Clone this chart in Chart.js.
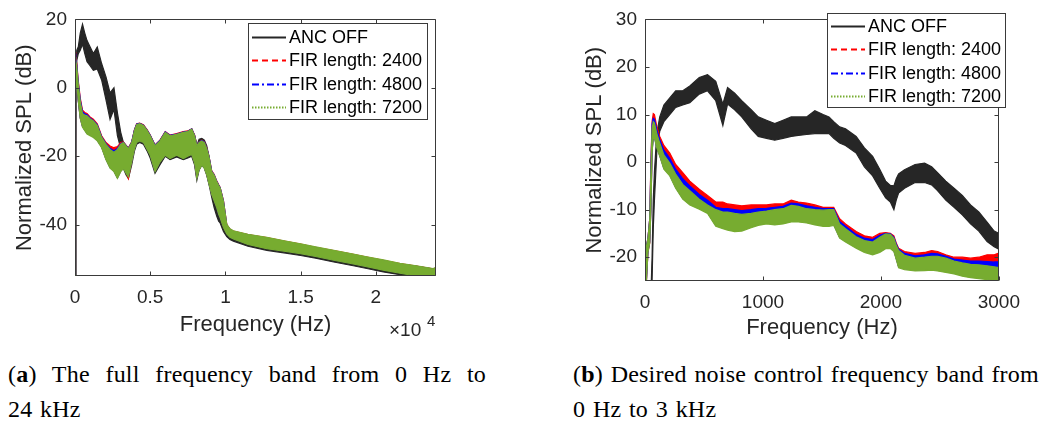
<!DOCTYPE html>
<html>
<head>
<meta charset="utf-8">
<script src="https://cdn.jsdelivr.net/npm/chart.js@4.4.0/dist/chart.umd.min.js"></script>
<style>
  body { margin: 0; background: #fff; width: 1042px; height: 421px; overflow: hidden; position: relative; }
  .plot { position: absolute; top: 0; height: 345px; }
  #fullBox { left: 0; width: 460px; }
  #lowBox { left: 560px; width: 470px; }
  .cap { position: absolute; font-family: 'Liberation Serif', 'Times New Roman', serif; font-size: 24px;
         line-height: 24px; color: #000; white-space: nowrap; letter-spacing: 0.2px; word-spacing: 1.5px; }
</style>
</head>
<body>
<div class="plot" id="fullBox"><canvas id="fullChart"></canvas></div>
<div class="plot" id="lowBox"><canvas id="lowChart"></canvas></div>

<div class="cap" style="left:8px; top:362px; width:478px; text-align:justify; text-align-last:justify;">(<b>a</b>) The full frequency band from 0 Hz to</div>
<div class="cap" style="left:8px; top:397px;">24 kHz</div>
<div class="cap" style="left:573px; top:362px;">(<b>b</b>) Desired noise control frequency band from</div>
<div class="cap" style="left:573px; top:397px;">0 Hz to 3 kHz</div>

<script>
// series shared by both panels
const seriesLabels = ['ANC OFF', 'FIR length: 2400', 'FIR length: 4800', 'FIR length: 7200'];
const seriesColors = ['#262626', '#ff0000', '#0000ff', '#77ac30'];
const seriesDash = [[], [6, 4], [7, 3, 2, 3], [1.5, 1.5]];

// (a) full band, 0 - 24 kHz. each series is drawn as a band: upper / lower envelope
const fullFreq = [
  0, 30, 60, 120, 220, 350, 500, 650, 800, 1000,
  1220, 1480, 1770, 2060, 2330, 2590, 2820, 3040, 3220, 3400,
  3550, 3770, 3950, 4100, 4300, 4550, 4800, 5000, 5320, 5650,
  6000, 6320, 6760, 7200, 7500, 7760, 7950, 8100, 8250, 8430,
  8600, 8760, 8900, 9090, 9250, 9420, 9550, 9650, 9870, 10090,
  10300, 10530, 11500, 12750, 14000, 15000, 16000, 17200, 18500, 19400,
  20500, 21600, 22700, 23800, 24000
];
const fullOffHi = [
  -60, -60, 5, 11, 12, 16, 18.6, 16, 13.8, 12,
  10, 11.9, 7.1, 3.2, -1.5, 0, -7.3, -13, -16, -17,
  -17.8, -16, -12.5, -10.7, -10.5, -11, -12.5, -14, -16.9, -15.5,
  -13, -14, -13.6, -13, -12.8, -12.1, -14, -16.9, -15, -14.8,
  -15.3, -17, -20, -25, -27, -29, -30, -31, -35, -40.5,
  -41.6, -42.2, -43.2, -44, -45, -45.8, -46.8, -47.8, -48.9, -49.6,
  -50.5, -51.5, -52.2, -53, -53
];
const fullOffLo = [
  -60, -60, -30, 8, 10, 11, 12.8, 10, 7.6, 6.5,
  5.1, 5.5, 2.3, -3.5, -9.2, -6.3, -14, -17.8, -23.6, -25.5,
  -26.5, -22.5, -18.5, -16.5, -16, -16.5, -18.5, -20.5, -25, -22.5,
  -20, -21, -20.2, -21, -20.5, -20, -22.5, -27, -24, -22.6,
  -23.5, -25.5, -28, -32, -35, -37.5, -39, -39.5, -42, -43.5,
  -44.3, -44.8, -46.3, -47.5, -48.3, -49, -49.8, -50.9, -52, -52.8,
  -53.8, -54.6, -55.5, -56, -56
];
const full2400Hi = [
  -60, 10.5, 9, 7, 2, -3, -6.5, -7.2, -7.5, -8.5,
  -9.2, -10.5, -14, -16, -17, -17.5, -17.2, -16, -15.8, -16.8,
  -17.5, -15.8, -12.3, -10.5, -10.3, -10.8, -12.3, -13.8, -16.7, -15.3,
  -12.8, -13.8, -13.4, -12.8, -12.6, -12, -13.8, -16.7, -15.8, -15.3,
  -15.8, -17.6, -19.8, -24.3, -25.3, -27.2, -28.3, -29.1, -33, -40,
  -41.3, -41.9, -42.9, -43.8, -44.9, -45.7, -46.6, -47.6, -48.7, -49.5,
  -50.4, -51.4, -52.1, -52.9, -52.6
];
const full2400Lo = [
  -60, -55, 4.3, 1.3, -3.7, -8.7, -11.2, -12.2, -13.2, -13.7,
  -14.2, -15.2, -17.2, -20.7, -23.2, -24.2, -26.2, -24.2, -23.3, -24.7,
  -26.5, -21.4, -17.7, -15.7, -15.2, -15.7, -17.7, -19.4, -24.2, -21.4,
  -19.4, -20.4, -19.4, -20.4, -19.7, -19.2, -21.7, -26.2, -23.7, -22.3,
  -23.2, -25.2, -27.7, -30.9, -32.7, -34.7, -36.7, -37.7, -40.5, -42.4,
  -43.4, -43.9, -45.5, -46.7, -47.5, -48.2, -49, -50.1, -51.2, -52,
  -53, -53.9, -54.7, -55.2, -55.2
];
const full4800Hi = [
  -60, 10, 8.5, 6.5, 1.5, -3.5, -7, -7.6, -7.9, -8.8,
  -9.5, -10.8, -14.3, -16.3, -17.7, -18.4, -17.7, -16.3, -15.9, -16.9,
  -17.7, -15.9, -12.4, -10.6, -10.4, -10.9, -12.4, -13.9, -16.8, -15.4,
  -12.9, -13.9, -13.5, -12.9, -12.7, -12, -13.9, -16.8, -15.9, -15.4,
  -15.9, -17.7, -19.9, -24.4, -25.4, -27.3, -28.4, -29.2, -33.1, -40.1,
  -41.4, -42, -43, -43.9, -45, -45.8, -46.7, -47.7, -48.8, -49.6,
  -50.5, -51.5, -52.2, -53, -52.7
];
const full4800Lo = [
  -60, -55, 4.2, 1.2, -3.8, -8.8, -11.3, -12.3, -13.3, -13.8,
  -14.3, -15.3, -17.3, -20.8, -23.3, -24.3, -26.3, -24.3, -23.4, -24.8,
  -25.8, -21.5, -17.8, -15.8, -15.3, -15.8, -17.8, -19.5, -24.3, -21.5,
  -19.5, -20.5, -19.5, -20.5, -19.8, -19.3, -21.8, -26.3, -23.8, -22.4,
  -23.3, -25.3, -27.8, -31, -32.8, -34.8, -36.8, -37.8, -40.6, -42.5,
  -43.5, -44, -45.6, -46.8, -47.6, -48.3, -49.1, -50.2, -51.3, -52.1,
  -53.1, -54, -54.8, -55.3, -55.3
];
const full7200Hi = [
  -60, 9, 8, 6, 1, -4, -7.5, -8, -8.2, -9,
  -9.7, -11, -14.5, -16.5, -18, -18.8, -18, -16.5, -16, -17,
  -17.8, -16, -12.5, -10.7, -10.5, -11, -12.5, -14, -16.9, -15.5,
  -13, -14, -13.6, -13, -12.8, -12.1, -14, -16.9, -16, -15.5,
  -16, -17.8, -20, -24.5, -25.5, -27.4, -28.5, -29.3, -33.2, -39.9,
  -41.2, -41.8, -42.8, -43.7, -44.8, -45.6, -46.5, -47.5, -48.6, -49.4,
  -50.3, -51.3, -52, -52.8, -52.5
];
const full7200Lo = [
  -60, -55, 4, 1, -4, -9, -11.5, -12.5, -13.5, -14,
  -14.5, -15.5, -17.5, -21, -23.5, -24.5, -26.5, -24.5, -23.6, -25,
  -26, -21.7, -18, -16, -15.5, -16, -18, -19.7, -24.5, -21.7,
  -19.7, -20.7, -19.7, -20.7, -20, -19.5, -22, -26.5, -24, -22.6,
  -23.5, -25.5, -28, -31.2, -33, -35, -37, -38, -40.8, -42.7,
  -43.7, -44.2, -45.8, -47, -47.8, -48.5, -49.3, -50.4, -51.5, -52.3,
  -53.3, -54.2, -55, -55.5, -55.5
];
const fullXTicks = [0, 5000, 10000, 15000, 20000];
const fullXTickLabels = ['0', '0.5', '1', '1.5', '2'];
const fullYTicks = [-40, -20, 0, 20];

// (b) noise control band, 0 - 3 kHz
const lowFreq = [
  0, 10, 25, 40, 50, 60, 70, 80, 100, 125,
  160, 210, 260, 320, 380, 460, 530, 600, 660, 700,
  760, 820, 900, 960, 1030, 1100, 1170, 1240, 1300, 1370,
  1440, 1510, 1560, 1600, 1650, 1700, 1790, 1860, 1930, 1990,
  2040, 2080, 2110, 2130, 2150, 2200, 2290, 2370, 2430, 2480,
  2550, 2620, 2690, 2760, 2830, 2900, 2960, 3000
];
const lowOffHi = [
  -30, -30, -30, -30, -28, -20, -8, -2, 6, 9.5,
  12, 13.5, 15, 15, 16, 17.8, 18.4, 17, 12.2, 15.7,
  14.5, 12.9, 11, 9.5, 8.8, 8.1, 8.8, 9.5, 9.5, 9.5,
  10.8, 10, 9.5, 8.5, 7.4, 7, 5.4, 3, 1.2, -1.5,
  -4, -4.9, -5, -3.5, -2.5, -1.6, -0.5, -0.2, -1, -2.2,
  -4, -5.5, -7, -9, -10.5, -12.6, -14.5, -15
];
const lowOffLo = [
  -30, -30, -30, -30, -30, -25, -14, -8, 2, 6.5,
  8.5, 10, 11.5, 12, 12.5, 14.3, 15, 12.9, 7.7, 12.2,
  11, 9.5, 7, 5.4, 5, 4.6, 5, 5.4, 5.6, 5.8,
  6, 6, 6, 5, 4, 3.5, 1.9, -1, -2.9, -5.5,
  -7.5, -8.4, -10, -8, -6.5, -5.5, -4.3, -4.3, -4.8, -6,
  -8, -9.5, -11.1, -13, -14.5, -16.7, -17.8, -18.3
];
const low2400Hi = [
  -30, -18, -16, -12, 0, 8.5, 10.2, 10, 7.5, 5.4,
  3.5, 1.9, -0.5, -2.2, -4, -5.7, -7, -8.4, -8.4, -8.8,
  -9, -9.2, -9, -9, -9, -8.8, -8.8, -8, -8.4, -8.6,
  -9, -9.5, -9.5, -9.5, -11.9, -13, -14.6, -15.5, -15.8, -15,
  -14.8, -15, -15.5, -17, -18.1, -18.8, -19.2, -19, -18.6, -18.8,
  -19.5, -20, -20, -20.2, -20, -19.5, -19.5, -19.1
];
const low2400Lo = [
  -30, -26, -19, -17, -9.5, 2.5, 5.5, 5.5, 3.5, 1.5,
  -1.2, -2.6, -5.2, -7.5, -8.7, -9.6, -10.5, -13.2, -13.7, -14,
  -14.3, -14.2, -13.5, -13, -12.7, -12.9, -12.7, -12.3, -12.3, -12.5,
  -12.9, -13.2, -13.2, -13, -15.7, -16.5, -17.8, -18.7, -19.2, -18.7,
  -17.9, -17.9, -18.5, -20.2, -21.9, -22.3, -22.6, -22.5, -22.4, -22.6,
  -22.9, -23.2, -23.7, -24, -24.2, -24.4, -24.7, -24.7
];
const low4800Hi = [
  -30, -18, -16, -12, -1, 8, 9.2, 9, 6.8, 4.7,
  2.5, 0.8, -1.5, -3.5, -5, -6.8, -8, -9.5, -9.8, -9.8,
  -10, -10.2, -10, -9.8, -9.7, -9.5, -9.3, -8.6, -8.8, -9.2,
  -9.5, -9.8, -9.8, -9.8, -12.5, -13.5, -15.2, -16, -16.3, -15.4,
  -15, -15.1, -15.8, -17.2, -18.3, -19.2, -19.7, -19.5, -19.2, -19.3,
  -19.8, -20.4, -20.6, -20.8, -20.8, -20.9, -21, -21
];
const low4800Lo = [
  -30, -25.8, -18.8, -16.8, -9.8, 2.2, 5.2, 5.2, 3.2, 1.4,
  -1.3, -2.7, -5.3, -7.6, -8.8, -9.7, -10.6, -13.3, -13.8, -14.1,
  -14.4, -14.3, -13.6, -13.1, -12.8, -13, -12.8, -12.4, -12.4, -12.6,
  -13, -13.3, -13.3, -13.1, -15.8, -16.6, -17.9, -18.8, -19.3, -18.8,
  -18, -18, -18.6, -20.3, -22, -22.4, -22.7, -22.6, -22.5, -22.7,
  -23, -23.3, -23.8, -24.1, -24.3, -24.5, -24.8, -24.8
];
const low7200Hi = [
  -30, -18, -16, -12, -2, 7, 8.5, 8.2, 6, 4,
  1.5, -0.2, -2.5, -4.7, -6, -7.8, -9, -10, -10.5, -10.5,
  -10.8, -11, -10.8, -10.5, -10.3, -10, -9.8, -9.1, -9.3, -9.8,
  -10, -10.1, -10, -10, -13, -14, -15.7, -16.5, -16.8, -15.8,
  -15.1, -15.2, -16, -17.5, -18.6, -19.6, -20.2, -20, -19.8, -19.8,
  -20.2, -20.8, -21.2, -21.5, -21.6, -21.8, -22, -22.2
];
const low7200Lo = [
  -30, -26, -19, -17, -10, 2, 5, 5, 3, 1.2,
  -1.5, -2.9, -5.5, -7.8, -9, -9.9, -10.8, -13.5, -14, -14.3,
  -14.6, -14.5, -13.8, -13.3, -13, -13.2, -13, -12.6, -12.6, -12.8,
  -13.2, -13.5, -13.5, -13.3, -16, -16.8, -18.1, -19, -19.5, -19,
  -18.2, -18.2, -18.8, -20.5, -22.2, -22.6, -22.9, -22.8, -22.7, -22.9,
  -23.2, -23.5, -24, -24.3, -24.5, -24.7, -25, -25
];
const lowXTicks = [0, 1000, 2000, 3000];
const lowYTicks = [-20, -10, 0, 10, 20, 30];

const textColor = '#262626';
Chart.defaults.font.family = "'Liberation Sans', Arial, sans-serif";
Chart.defaults.color = textColor;

// box round the axes with MATLAB style inward ticks on all four sides
const axesFrame = {
  id: 'axesFrame',
  afterDatasetsDraw(chart) {
    const { ctx, chartArea: a, scales: { x, y } } = chart;
    const L = Math.round(a.left) + 0.5, R = Math.round(a.right) - 0.5;
    const T = Math.round(a.top) + 0.5, B = Math.round(a.bottom) - 0.5;
    ctx.save();
    ctx.strokeStyle = '#3a3a3a';
    ctx.lineWidth = 1;
    ctx.beginPath();
    ctx.rect(L, T, R - L, B - T);
    x.ticks.forEach(t => {
      const px = Math.round(x.getPixelForValue(t.value)) + 0.5;
      ctx.moveTo(px, B); ctx.lineTo(px, B - 4);
      ctx.moveTo(px, T); ctx.lineTo(px, T + 4);
    });
    y.ticks.forEach(t => {
      const py = Math.round(y.getPixelForValue(t.value)) + 0.5;
      ctx.moveTo(L, py); ctx.lineTo(L + 4, py);
      ctx.moveTo(R, py); ctx.lineTo(R - 4, py);
    });
    ctx.stroke();
    ctx.restore();
  }
};

// legend inside the axes, with the line styles of the original
const boxLegend = {
  id: 'boxLegend',
  afterDraw(chart, args, opts) {
    const { ctx } = chart;
    ctx.save();
    ctx.fillStyle = '#fff';
    ctx.fillRect(opts.x, opts.y, opts.w, opts.h);
    ctx.strokeStyle = '#3a3a3a';
    ctx.lineWidth = 1;
    ctx.strokeRect(opts.x + 0.5, opts.y + 0.5, opts.w, opts.h);
    ctx.font = "18px 'Liberation Sans', Arial, sans-serif";
    ctx.textBaseline = 'middle';
    seriesLabels.forEach((label, i) => {
      const cy = Math.round(opts.y + opts.firstRow + i * opts.rowGap) + 0.5;
      ctx.strokeStyle = seriesColors[i];
      ctx.lineWidth = 2;
      ctx.setLineDash(seriesDash[i]);
      ctx.beginPath();
      ctx.moveTo(opts.x + 4, cy);
      ctx.lineTo(opts.x + 38, cy);
      ctx.stroke();
      ctx.setLineDash([]);
      ctx.fillStyle = '#000';
      ctx.fillText(label, opts.x + 41, cy + 1);
    });
    ctx.restore();
  }
};

// "x10^4" multiplier under the right end of the x axis
const xExponent = {
  id: 'xExponent',
  afterDraw(chart, args, opts) {
    if (!opts.show) return;
    const { ctx } = chart;
    ctx.save();
    ctx.fillStyle = textColor;
    ctx.textBaseline = 'alphabetic';
    ctx.font = "19px 'Liberation Sans', Arial, sans-serif";
    ctx.fillText('\u00d710', 389, 336);
    ctx.font = "15px 'Liberation Sans', Arial, sans-serif";
    ctx.fillText('4', 427, 326);
    ctx.restore();
  }
};

function bandDatasets(freq, bands) {
  const out = [];
  bands.forEach((b, k) => {
    const order = bands.length - 1 - k;
    out.push({
      label: seriesLabels[k],
      data: freq.map((f, i) => ({ x: f, y: b[0][i] })),
      borderColor: seriesColors[k], borderWidth: 1.2, pointRadius: 0, fill: false, order
    });
    out.push({
      label: seriesLabels[k] + ' low',
      data: freq.map((f, i) => ({ x: f, y: b[1][i] })),
      borderColor: seriesColors[k], borderWidth: 1.2, pointRadius: 0,
      backgroundColor: seriesColors[k], fill: '-1', order
    });
  });
  return out;
}

function makeChart(id, p) {
  return new Chart(document.getElementById(id), {
    type: 'line',
    data: { datasets: bandDatasets(p.freq, p.bands) },
    options: {
      responsive: true,
      maintainAspectRatio: false,
      animation: false,
      events: [],
      layout: { padding: { left: 0, right: p.padRight, top: p.padTop, bottom: 0 } },
      elements: { line: { tension: 0 } },
      scales: {
        x: {
          type: 'linear', min: p.xMin, max: p.xMax,
          afterBuildTicks: s => { s.ticks = p.xTicks.map(v => ({ value: v })); },
          afterFit: s => { s.height = p.xAxisHeight; },
          grid: { display: false, drawTicks: false },
          border: { display: false },
          ticks: {
            autoSkip: false, maxRotation: 0, padding: 10,
            font: { size: 19 }, color: textColor,
            callback: v => p.xLabels[p.xTicks.indexOf(v)]
          },
          title: { display: true, text: 'Frequency (Hz)', font: { size: 22 }, color: textColor,
                   padding: { top: 0, bottom: p.xTitlePad } }
        },
        y: {
          type: 'linear', min: p.yMin, max: p.yMax,
          afterBuildTicks: s => { s.ticks = p.yTicks.map(v => ({ value: v })); },
          afterFit: s => { s.width = p.yAxisWidth; },
          grid: { display: false, drawTicks: false },
          border: { display: false },
          ticks: { padding: 8, font: { size: 19 }, color: textColor },
          title: { display: true, text: 'Normalized SPL (dB)', font: { size: 22 }, color: textColor,
                   padding: { top: p.yTitlePad, bottom: 0 } }
        }
      },
      plugins: {
        legend: { display: false },
        tooltip: { enabled: false },
        boxLegend: p.legend,
        xExponent: { show: p.exponent }
      }
    },
    plugins: [axesFrame, boxLegend, xExponent]
  });
}

makeChart('fullChart', {
  freq: fullFreq,
  bands: [[fullOffHi, fullOffLo], [full2400Hi, full2400Lo], [full4800Hi, full4800Lo], [full7200Hi, full7200Lo]],
  xMin: 0, xMax: 24000, yMin: -55, yMax: 20,
  xTicks: fullXTicks, xLabels: fullXTickLabels, yTicks: fullYTicks,
  padRight: 24, padTop: 15, xAxisHeight: 69, yAxisWidth: 75,
  xTitlePad: 7, yTitlePad: 12,
  legend: { x: 248, y: 23, w: 179, h: 96, firstRow: 14, rowGap: 23.3 },
  exponent: true
});

makeChart('lowChart', {
  freq: lowFreq,
  bands: [[lowOffHi, lowOffLo], [low2400Hi, low2400Lo], [low4800Hi, low4800Lo], [low7200Hi, low7200Lo]],
  xMin: 0, xMax: 3000, yMin: -25, yMax: 30,
  xTicks: lowXTicks, xLabels: lowXTicks.map(String), yTicks: lowYTicks,
  padRight: 24, padTop: 14, xAxisHeight: 64, yAxisWidth: 85,
  xTitlePad: 4, yTitlePad: 22,
  legend: { x: 267, y: 13, w: 178, h: 94, firstRow: 13, rowGap: 23.3 },
  exponent: false
});
</script>
</body>
</html>
